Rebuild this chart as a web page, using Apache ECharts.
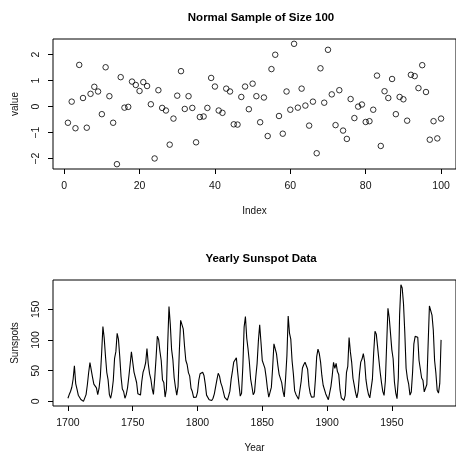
<!DOCTYPE html>
<html>
<head>
<meta charset="utf-8">
<script src="https://cdn.jsdelivr.net/npm/echarts@6/dist/echarts.min.js"></script>
<style>
  html, body { margin: 0; padding: 0; background: #fff; }
  #chart { width: 456px; height: 454px; }
</style>
</head>
<body>
<div id="chart"></div>
<script>
// normal sample (index 1..100)
var sampleValues = [
  -0.62, 0.19, -0.83, 1.60, 0.33, -0.81, 0.49, 0.76, 0.58, -0.29,
  1.51, 0.40, -0.62, -2.21, 1.13, -0.04, -0.01, 0.96, 0.83, 0.60,
  0.94, 0.79, 0.09, -1.99, 0.63, -0.05, -0.15, -1.46, -0.46, 0.42,
  1.36, -0.09, 0.40, -0.05, -1.37, -0.40, -0.38, -0.05, 1.10, 0.77,
  -0.15, -0.24, 0.69, 0.58, -0.68, -0.69, 0.37, 0.77, -0.10, 0.88,
  0.40, -0.60, 0.35, -1.13, 1.44, 1.99, -0.36, -1.04, 0.58, -0.12,
  2.41, -0.04, 0.69, 0.04, -0.73, 0.19, -1.79, 1.47, 0.15, 2.18,
  0.47, -0.71, 0.63, -0.92, -1.24, 0.29, -0.44, 0.00, 0.08, -0.59,
  -0.56, -0.12, 1.19, -1.51, 0.59, 0.33, 1.06, -0.29, 0.37, 0.28,
  -0.54, 1.22, 1.17, 0.71, 1.59, 0.56, -1.27, -0.56, -1.22, -0.46
];
var sampleXTicks = [0, 20, 40, 60, 80, 100];
var sampleYTicks = [-2, -1, 0, 1, 2];

// yearly sunspot numbers 1700..1988
var sunspotStart = 1700;
var sunspots = [
  5.0, 11.0, 16.0, 23.0, 36.0, 58.0, 29.0, 20.0, 10.0, 8.0,
  3.0, 0.0, 0.0, 2.0, 11.0, 27.0, 47.0, 63.0, 60.0, 39.0,
  28.0, 26.0, 22.0, 11.0, 21.0, 40.0, 78.0, 122.0, 103.0, 73.0,
  47.0, 35.0, 11.0, 5.0, 16.0, 34.0, 70.0, 81.0, 111.0, 101.0,
  73.0, 40.0, 20.0, 16.0, 5.0, 11.0, 22.0, 40.0, 60.0, 80.9,
  83.4, 47.7, 47.8, 30.7, 12.2, 9.6, 10.2, 32.4, 47.6, 54.0,
  62.9, 85.9, 61.2, 45.1, 36.4, 20.9, 11.4, 37.8, 69.8, 106.1,
  100.8, 81.6, 66.5, 34.8, 30.6, 7.0, 19.8, 92.5, 154.4, 125.9,
  84.8, 68.1, 38.5, 22.8, 10.2, 24.1, 82.9, 132.0, 130.9, 118.1,
  89.9, 66.6, 60.0, 46.9, 41.0, 21.3, 16.0, 6.4, 4.1, 6.8,
  14.5, 34.0, 45.0, 43.1, 47.5, 42.2, 28.1, 10.1, 8.1, 2.5,
  0.0, 1.4, 5.0, 12.2, 13.9, 35.4, 45.8, 41.1, 30.1, 23.9,
  15.6, 6.6, 4.0, 1.8, 8.5, 16.6, 36.3, 49.6, 64.2, 67.0,
  70.9, 47.8, 27.5, 8.5, 13.2, 56.9, 121.5, 138.3, 103.2, 85.7,
  64.6, 36.7, 24.2, 10.7, 15.0, 40.1, 61.5, 98.5, 124.7, 96.3,
  66.6, 64.5, 54.1, 39.0, 20.6, 6.7, 4.3, 22.7, 54.8, 93.8,
  95.8, 77.2, 59.1, 44.0, 47.0, 30.5, 16.3, 7.3, 37.6, 74.0,
  139.0, 111.2, 101.6, 66.2, 44.7, 17.0, 11.3, 12.4, 3.4, 6.0,
  32.3, 54.3, 59.7, 63.7, 63.5, 52.2, 25.4, 13.1, 6.8, 6.3,
  7.1, 35.6, 73.0, 85.1, 78.0, 64.0, 41.8, 26.2, 26.7, 12.1,
  9.5, 2.7, 5.0, 24.4, 42.0, 63.5, 53.8, 62.0, 48.5, 43.9,
  18.6, 5.7, 3.6, 1.4, 9.6, 47.4, 57.1, 103.9, 80.6, 63.6,
  37.6, 26.1, 14.2, 5.8, 16.7, 44.3, 63.9, 69.0, 77.8, 64.9,
  35.7, 21.2, 11.1, 5.7, 8.7, 36.1, 79.7, 114.4, 109.6, 88.8,
  67.8, 47.5, 30.6, 16.3, 9.6, 33.2, 92.6, 151.6, 136.3, 134.7,
  83.9, 69.4, 31.5, 13.9, 4.4, 38.0, 141.7, 190.2, 184.8, 159.0,
  112.3, 53.9, 37.5, 27.9, 10.2, 15.1, 47.0, 93.8, 105.9, 105.5,
  104.5, 66.6, 68.9, 38.0, 34.5, 15.5, 12.6, 27.5, 92.5, 155.4,
  154.7, 140.5, 115.9, 66.6, 45.9, 17.9, 13.4, 29.2, 100.2
];
var yearTicks = [1700, 1750, 1800, 1850, 1900, 1950];
var sunspotYTicks = [0, 50, 100, 150];

// R style axis range: data range padded by 4% each side
function rRange(lo, hi) {
  var d = (hi - lo) * 0.04;
  return [lo - d, hi + d];
}

var samplePoints = sampleValues.map(function (v, i) { return [i + 1, v]; });
var sunspotPoints = sunspots.map(function (v, i) { return [sunspotStart + i, v]; });

var sx = rRange(1, sampleValues.length);
var sy = rRange(Math.min.apply(null, sampleValues), Math.max.apply(null, sampleValues));
var px = rRange(sunspotStart, sunspotStart + sunspots.length - 1);
var py = rRange(Math.min.apply(null, sunspots), Math.max.apply(null, sunspots));

var font = 'Liberation Sans, Arial, Helvetica, sans-serif';
var txt = '#111';

function plain(v) {
  return String(v).replace('-', '\u2212');
}

function xAxisOpt(idx, range, ticks, name) {
  return {
    gridIndex: idx, type: 'value', min: range[0], max: range[1],
    name: name, nameLocation: 'middle', nameGap: 37,
    nameTextStyle: { fontFamily: font, fontSize: 10, color: txt },
    axisLine: { show: false, onZero: false },
    axisTick: { show: true, inside: false, length: 5, customValues: ticks,
      lineStyle: { color: '#000', width: 1 } },
    axisLabel: { customValues: ticks, margin: 12, fontFamily: font, fontSize: 10.5, color: txt,
      formatter: plain },
    splitLine: { show: false }
  };
}
function yAxisOpt(idx, range, ticks, name) {
  return {
    gridIndex: idx, type: 'value', min: range[0], max: range[1],
    name: name, nameLocation: 'middle', nameGap: 33, nameRotate: 90,
    nameTextStyle: { fontFamily: font, fontSize: 10, color: txt },
    axisLine: { show: false, onZero: false },
    axisTick: { show: true, inside: false, length: 5, customValues: ticks,
      lineStyle: { color: '#000', width: 1 } },
    axisLabel: { customValues: ticks, rotate: 90, margin: 11, fontFamily: font, fontSize: 10.5, color: txt,
      formatter: plain },
    splitLine: { show: false }
  };
}

var chart = echarts.init(document.getElementById('chart'), null, { renderer: 'canvas' });
chart.setOption({
  animation: false,
  backgroundColor: '#fff',
  title: [
    { text: 'Normal Sample of Size 100', left: 256, top: 7, textAlign: 'center',
      textStyle: { fontFamily: font, fontSize: 11.5, fontWeight: 'bold', color: '#000' } },
    { text: 'Yearly Sunspot Data', left: 256, top: 248, textAlign: 'center',
      textStyle: { fontFamily: font, fontSize: 11.5, fontWeight: 'bold', color: '#000' } }
  ],
  grid: [
    { left: 53, top: 39, width: 406, height: 130, show: true, borderColor: '#000', borderWidth: 1, backgroundColor: 'transparent' },
    { left: 53, top: 280, width: 406, height: 129, show: true, borderColor: '#000', borderWidth: 1, backgroundColor: 'transparent' }
  ],
  xAxis: [
    xAxisOpt(0, sx, sampleXTicks, 'Index'),
    xAxisOpt(1, px, yearTicks, 'Year')
  ],
  yAxis: [
    yAxisOpt(0, sy, sampleYTicks, 'value'),
    yAxisOpt(1, py, sunspotYTicks, 'Sunspots')
  ],
  series: [
    {
      type: 'scatter', xAxisIndex: 0, yAxisIndex: 0, data: samplePoints,
      symbol: 'circle', symbolSize: 5.5,
      itemStyle: { color: 'rgba(0,0,0,0)', borderColor: '#000', borderWidth: 1 }
    },
    {
      type: 'line', xAxisIndex: 1, yAxisIndex: 1, data: sunspotPoints,
      showSymbol: false, symbol: 'none',
      lineStyle: { color: '#000', width: 1.1 }
    }
  ]
});
</script>
</body>
</html>
